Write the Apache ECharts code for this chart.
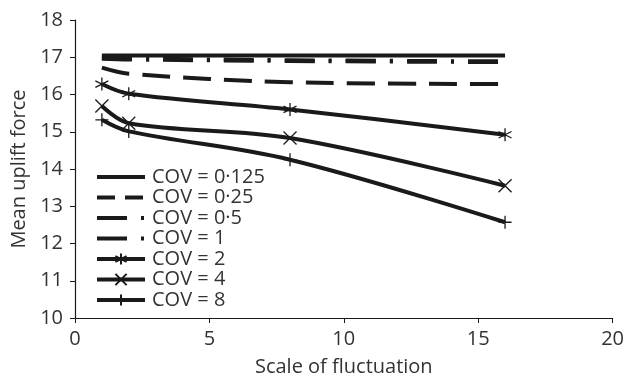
<!DOCTYPE html>
<html>
<head>
<meta charset="utf-8">
<script src="https://cdn.jsdelivr.net/npm/echarts@6/dist/echarts.min.js"></script>
<style>
html, body { margin: 0; padding: 0; background: #fff; }
#chart { width: 627px; height: 383px; }
</style>
</head>
<body>
<div id="chart"></div>
<script>
var scales   = [1, 2, 8, 16];
var cov0125  = [17.05, 17.05, 17.05, 17.05];
var cov025   = [16.72, 16.56, 16.33, 16.28];
var cov05    = [16.99, 16.97, 16.92, 16.89];
var cov1     = [16.96, 16.94, 16.9, 16.87];
var cov2     = [16.28, 16.02, 15.6, 14.92];
var cov4     = [15.69, 15.23, 14.83, 13.55];
var cov8     = [15.32, 15.01, 14.25, 12.57];
var names    = ["COV = 0·125", "COV = 0·25", "COV = 0·5", "COV = 1", "COV = 2", "COV = 4", "COV = 8"];

var ink = "#1a1a1a";
var txt = "#333";
var font = "Open Sans";

var asterisk = "path://M5 0L5 10M0.7 2.5L9.3 7.5M0.7 7.5L9.3 2.5";
var cross    = "path://M0 0L10 10M10 0L0 10";
var plus     = "path://M5 0L5 10M0 5L10 5";

var dashLong = [28, 13];
var dashDot  = [30, 14, 3, 14];

function pairs(ys) {
	var out = [];
	for (var i = 0; i < scales.length; i++) out.push([scales[i], ys[i]]);
	return out;
}

function mkSeries(name, ys, dash, sym) {
	return {
		name: name,
		type: "line",
		smooth: 0.35,
		data: pairs(ys),
		symbol: sym || "circle",
		symbolSize: 13,
		showSymbol: !!sym,
		lineStyle: { color: ink, width: 4, type: dash || "solid", cap: "butt" },
		itemStyle: sym ? { color: "none", borderColor: ink, borderWidth: 1.3 }
		               : { color: "rgba(0,0,0,0)", borderColor: "rgba(0,0,0,0)", borderWidth: 0 },
		emphasis: { disabled: true },
		z: 2
	};
}

// legend icons use their own dash lengths, like the original
var legendData = names.map(function(n, i) {
	var item = { name: n };
	if (i === 1) item.lineStyle = { type: [18, 10], width: 4 };
	if (i === 2 || i === 3) item.lineStyle = { type: dashDot, width: 4 };
	return item;
});

var chart = echarts.init(document.getElementById("chart"));

var option = {
	animation: false,
	grid: { left: 75, right: 13, top: 20, bottom: 65 },
	legend: {
		orient: "vertical",
		left: 95,
		top: 167,
		padding: 0,
		itemWidth: 48,
		itemHeight: 14,
		itemGap: 0.5,
		lineStyle: { width: 4 },
		textStyle: { fontFamily: font, fontSize: 20, lineHeight: 20, color: txt, padding: [0, 0, 0, 2] },
		data: legendData
	},
	xAxis: {
		type: "value",
		min: 0, max: 20, interval: 5,
		name: "Scale of fluctuation",
		nameLocation: "middle",
		nameGap: 39,
		nameTextStyle: { fontFamily: font, fontSize: 20, color: txt },
		axisLine: { lineStyle: { color: ink, width: 1.2 } },
		axisTick: { show: true, length: 5, lineStyle: { color: ink } },
		axisLabel: { fontFamily: font, fontSize: 20, color: txt, margin: 11 },
		splitLine: { show: false }
	},
	yAxis: {
		type: "value",
		min: 10, max: 18, interval: 1,
		name: "Mean uplift force",
		nameLocation: "middle",
		nameGap: 45,
		nameTextStyle: { fontFamily: font, fontSize: 20, color: txt },
		axisLine: { show: true, lineStyle: { color: ink, width: 1.2 } },
		axisTick: { show: true, length: 5, lineStyle: { color: ink } },
		axisLabel: { fontFamily: font, fontSize: 20, color: txt, margin: 12 },
		splitLine: { show: false }
	},
	series: [
		mkSeries(names[0], cov0125, "solid"),
		mkSeries(names[1], cov025, dashLong),
		mkSeries(names[2], cov05, dashDot),
		mkSeries(names[3], cov1, dashDot),
		mkSeries(names[4], cov2, "solid", asterisk),
		mkSeries(names[5], cov4, "solid", cross),
		mkSeries(names[6], cov8, "solid", plus)
	]
};

chart.setOption(option);
</script>
</body>
</html>
